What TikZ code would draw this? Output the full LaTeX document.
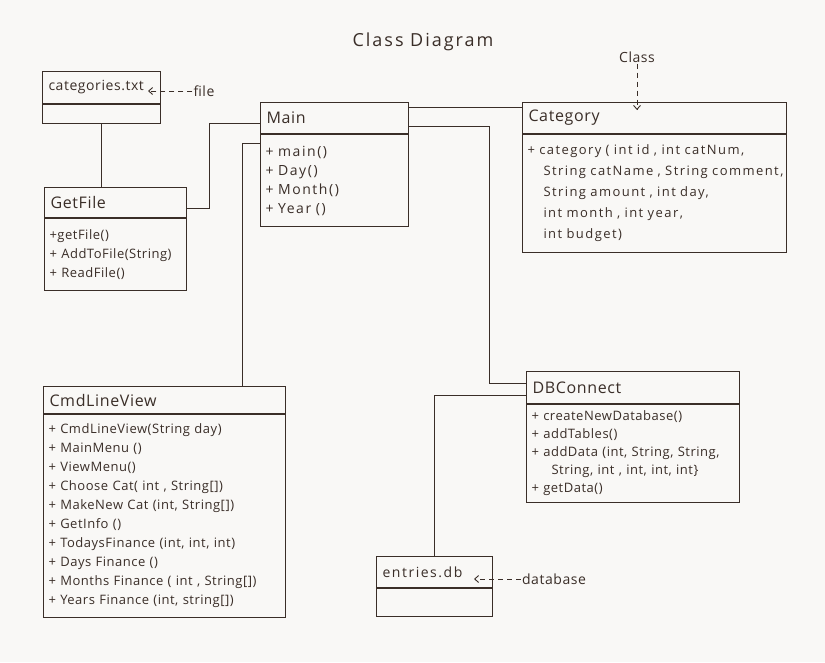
\documentclass[tikz,border=0pt]{standalone}
\usepackage{fontspec}
\setmainfont{Open Sans}
\newfontfamily\hand[LetterSpace=4]{Open Sans}
\newfontfamily\handwide[LetterSpace=11]{Open Sans}
\usetikzlibrary{arrows.meta,positioning}
\definecolor{ink}{HTML}{3A2E28}
\definecolor{paper}{HTML}{F9F8F6}

\begin{document}
\begin{tikzpicture}[x=1pt,y=-1pt,
  classhead/.style={draw=ink,line width=1pt,text=ink,anchor=north west,align=left,
    inner xsep=6pt,inner ysep=0pt,font=\hand\fontsize{16}{18}\selectfont},
  filehead/.style={classhead,font=\hand\fontsize{14}{16}\selectfont},
  classbody/.style={draw=ink,line width=1pt,text=ink,anchor=north west,align=left,
    inner xsep=5pt,inner ysep=0pt,font=\hand\fontsize{13}{19}\selectfont},
  widebody/.style={classbody,font=\handwide\fontsize{14}{19}\selectfont},
  note/.style={text=ink,inner sep=1pt,font=\hand\fontsize{14}{16}\selectfont},
  link/.style={draw=ink,line width=1pt},
  tag/.style={draw=ink,line width=0.9pt,dash pattern=on 5pt off 4pt,
    -{Straight Barb[length=4pt,width=7pt]}}]

% page
\fill[paper] (0,0) rectangle (825,662);
\useasboundingbox (0,0) rectangle (825,662);

\node[text=ink,font=\handwide\fontsize{18}{20}\selectfont] (title) at (423,42) {Class Diagram};

% categories.txt
\node[filehead,text width=106pt,minimum height=32pt] (cathead) at (42,71) {categories.txt};
\node[classbody,text width=108pt,minimum height=19pt] (catbody) at (cathead.south west) {};
\node[note] (filelbl) at (204,91) {file};
\coordinate (filetip) at (148,91);
\draw[tag] (filelbl) -- (filetip);

% GetFile
\node[classhead,text width=130pt,minimum height=30pt] (gethead) at (44,187) {GetFile};
\node[classbody,text width=132pt,minimum height=72pt] (getbody) at (gethead.south west)
  {+getFile()\\ + AddToFile(String)\\ + ReadFile()};

% Main
\node[classhead,text width=136pt,minimum height=31pt] (mainhead) at (260,102) {Main};
\node[widebody,text width=138pt,minimum height=92pt] (mainbody) at (mainhead.south west)
  {+ main()\\ + Day()\\ + Month()\\ + Year ()};

% Category
\node[classhead,text width=252pt,minimum height=31pt] (cathd) at (522,102) {Category};
\node[widebody,text width=254pt,minimum height=118pt,font=\handwide\fontsize{13}{21}\selectfont]
  (catbd) at (cathd.south west)
  {\mbox{+ category ( int id , int catNum,}\\
   \mbox{\hspace*{16pt}String catName , String comment,}\\
   \mbox{\hspace*{16pt}String amount , int day,}\\
   \mbox{\hspace*{16pt}int month , int year,}\\
   \mbox{\hspace*{16pt}int budget)}};
\node[note] (classlbl) at (637,57) {Class};
\coordinate (classtip) at (637,110);
\draw[tag] (classlbl) -- (classtip);

% CmdLineView
\node[classhead,text width=230pt,minimum height=27pt] (cmdhead) at (43,386) {CmdLineView};
\node[classbody,text width=232pt,minimum height=203pt] (cmdbody) at (cmdhead.south west)
  {+ CmdLineView(String day)\\ + MainMenu ()\\ + ViewMenu()\\
   + Choose Cat( int , String[])\\ + MakeNew Cat (int, String[])\\
   + GetInfo ()\\ + TodaysFinance (int, int, int)\\ + Days Finance ()\\
   + Months Finance ( int , String[])\\ + Years Finance (int, string[])};

% DBConnect
\node[classhead,text width=201pt,minimum height=32pt] (dbhead) at (526,371) {DBConnect};
\node[classbody,text width=203pt,minimum height=98pt,font=\hand\fontsize{13}{18}\selectfont]
  (dbbody) at (dbhead.south west)
  {+ createNewDatabase()\\ + addTables()\\ + addData (int, String, String,\\
   \hspace*{20pt}String, int , int, int, int\}\\ + getData()};

% entries.db
\node[filehead,text width=104pt,minimum height=31pt,font=\handwide\fontsize{14}{16}\selectfont]
  (enthead) at (376,556) {entries.db};
\node[classbody,text width=106pt,minimum height=28pt] (entbody) at (enthead.south west) {};
\node[note] (dblbl) at (554,579) {database};
\coordinate (dbtip) at (474,579);
\draw[tag] (dblbl) -- (dbtip);

% connectors
\draw[link] (catbody.south) -- (catbody.south |- gethead.north);
\draw[link] ([yshift=-6pt]gethead.east) -- ++(22,0) |- ([yshift=-5pt]mainhead.west);
\draw[link] ([yshift=-9pt]mainbody.north west) -- ++(-18,0) coordinate (mc) -- (mc |- cmdhead.north);
\draw[link] ([yshift=-5pt]mainhead.north east) -- ([yshift=-5pt]mainhead.north east -| cathd.west);
\draw[link] ([yshift=-24pt]mainhead.north east) -- ++(80,0) coordinate (md) |- ([yshift=-12pt]dbhead.north west);
\draw[link] ([yshift=-24pt]dbhead.north west) -| (enthead.north);
\end{tikzpicture}
\end{document}
